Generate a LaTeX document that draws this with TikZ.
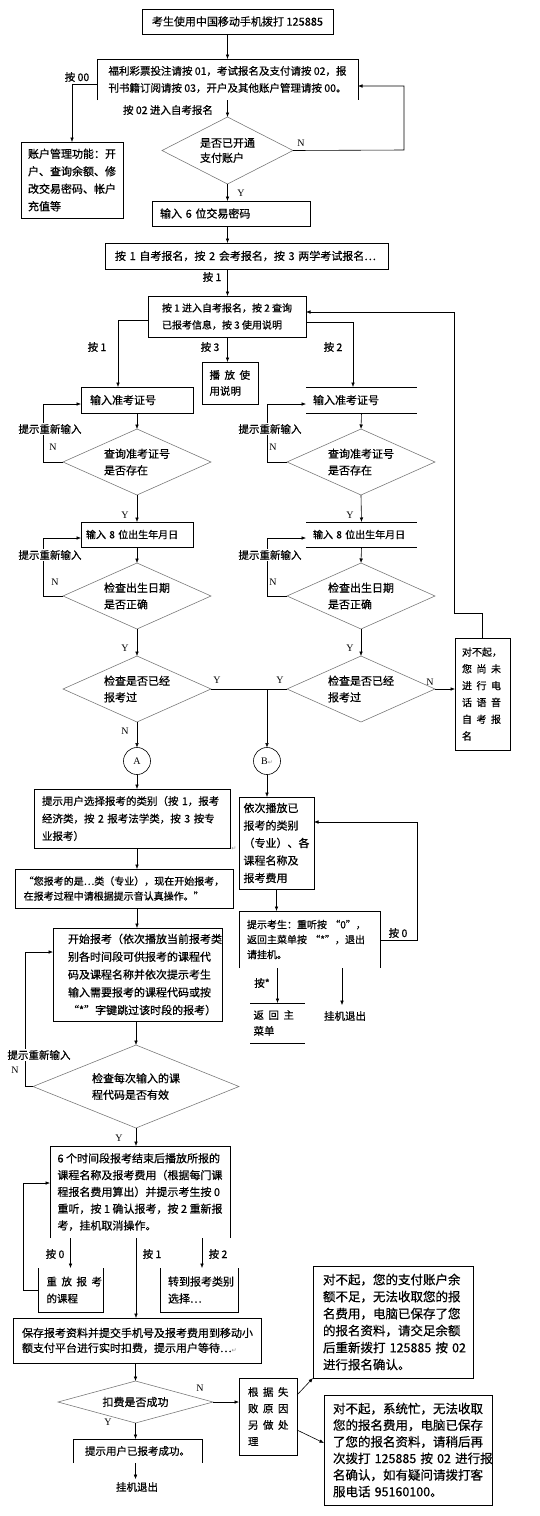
\documentclass[tikz,border=0pt]{standalone}
\usepackage{fontspec}
\setmainfont{Noto Sans CJK SC}[FakeBold=0.6]
\newfontfamily\lat{Liberation Serif}
\newfontfamily\dvs{DejaVu Sans}
\usetikzlibrary{shapes.geometric,arrows.meta}
\newcommand\fsz[2]{\fontsize{#1}{#2}\selectfont}
\newcommand\gp{\kern4.5pt}
\newcommand\rt{{\dvs\fontsize{6}{6}\selectfont\textcolor{black!45}{↵}}}
\newcommand\bxn[6][]{\node[#1,minimum width={(#5-#3)*1pt},minimum height={(#6-#4)*1pt}] (#2) at ({(#3+#5)/2},{(#4+#6)/2})}
\begin{document}
\begin{tikzpicture}[x=1pt,y=-1pt,
  every node/.style={inner sep=1pt,outer sep=0pt},
  bx/.style={draw,line width=0.75pt,align=left,font=\fsz{11}{17.5}},
  nb/.style={align=left,font=\fsz{11}{17.5}},
  tw/.style={text width=#1pt},
  dia/.style={diamond,draw=black!55,line width=0.55pt,shape aspect=2.5,inner sep=0pt,align=left,font=\fsz{11}{16.5}},
  circ/.style={circle,draw,line width=0.6pt,minimum size=27pt,font=\lat\fsz{10}{12}},
  arr/.style={-{Latex[length=4.5pt,width=3.6pt]},line width=0.6pt},
  ln/.style={line width=0.6pt},
  side/.style={line width=0.75pt},
  lab/.style={font=\fsz{10.5}{12}},
  yn/.style={font=\lat\fsz{10}{12}},
]
\fill[white] (0,0) rectangle (540,1516);
\useasboundingbox (0,0) rectangle (540,1516);

% ---------- boxes ----------
\bxn[bx]{start}{142}{9}{333}{34} {考生使用中国移动手机拨打~125885};
\bxn[nb,font=\fsz{10.5}{17}]{box2}{97}{59}{358}{100} {福利彩票投注请按~01，考试报名及支付请按~02，报\\刊书籍订阅请按~03，开户及其他账户管理请按~00。};
\bxn[bx,tw=88]{acct}{21}{142}{123}{218} {账户管理功能：开\\户、查询余额、修\\改交易密码、帐户\\充值等};
\bxn[bx,tw=142]{box3}{152}{201}{310}{226} {输入~6~位交易密码};
\bxn[bx,tw=263]{box4}{105}{243}{388}{269} {按~1~自考报名，按~2~会考报名，按~3~两学考试报名…};
\bxn[bx,font=\fsz{10}{17}]{box5}{148}{296}{306}{337} {按~1~进入自考报名，按~2~查询\\已报考信息，按~3~使用说明};
\bxn[bx,tw=41,font=\fsz{10.5}{16}]{play}{202}{362}{258}{404} {播\gp 放\gp 使\\用说明};
\bxn[bx,tw=94]{box6L}{81}{387}{193}{413} {输入准考证号};
\bxn[nb,tw=97]{box6R}{306}{387}{417}{413} {输入准考证号};
\bxn[bx,tw=102,font=\fsz{10}{17}]{box7L}{81}{522}{193}{547} {输入~8~位出生年月日};
\bxn[nb,tw=97,font=\fsz{10}{17}]{box7R}{306}{522}{417}{547} {输入~8~位出生年月日};
\bxn[bx,tw=41,font=\fsz{10}{16.8}]{sorry}{455}{638}{510}{750} {对不起，\\您\gp 尚\gp 未\\进\gp 行\gp 电\\话\gp 语\gp 音\\自\gp 考\gp 报\\名};
\bxn[bx,tw=180,font=\fsz{10.5}{17.5}]{box8}{34}{789}{230}{848} {提示用户选择报考的类别（按~1，报考\\经济类，按~2~报考法学类，按~3~按专\\业报考）};
\bxn[bx,font=\fsz{11}{17.5}]{box9}{239}{797}{314}{889} {依次播放已\\报考的类别\\（专业）、各\\课程名称及\\报考费用};
\bxn[bx,font=\fsz{10}{15}]{box10}{15}{869}{233}{908} {“您报考的是…类（专业），现在开始报考，\\在报考过程中请根据提示音认真操作。”};
\bxn[nb,tw=125,font=\fsz{10}{15}]{box11}{239}{911}{380}{968} {提示考生：重听按~“0”，\\返回主菜单按~“*”，退出\\请挂机。};
\bxn[nb,tw=48,font=\fsz{10.5}{16}]{box12}{250}{1003}{305}{1043} {返\gp 回\gp 主\\菜单};
\bxn[bx,tw=139,font=\fsz{11}{17.8}]{box13}{53}{928}{222}{1021} {开始报考（依次播放当前报考类\\别各时间段可供报考的课程代\\码及课程名称并依次提示考生\\输入需要报考的课程代码或按\\“*”字键跳过该时段的报考）};
\bxn[nb,font=\fsz{11}{16.8}]{box14}{50}{1146}{230}{1238} {6~个时间段报考结束后播放所报的\\课程名称及报考费用（根据每门课\\程报名费用算出）并提示考生按~0\\重听，按~1~确认报考，按~2~重新报\\考，挂机取消操作。};
\bxn[nb,tw=48,font=\fsz{10.5}{17}]{box15}{38}{1268}{103}{1312} {重\gp 放\gp 报\gp 考\\的课程};
\bxn[bx,tw=230,font=\fsz{11}{15}]{box16}{13}{1318}{261}{1363} {保存报考资料并提交手机号及报考费用到移动小\\额支付平台进行实时扣费，提示用户等待…\rt};
\bxn[nb,tw=62,font=\fsz{11}{17}]{box17}{160}{1268}{238}{1312} {转到报考类别\\选择…};
\bxn[bx,tw=140,font=\fsz{12.5}{17}]{box18}{313}{1266}{473}{1378} {对不起，您的支付账户余\\额不足，无法收取您的报\\名费用，电脑已保存了您\\的报名资料，请交足余额\\后重新拨打~125885~按~02\\进行报名确认。};
\bxn[bx,tw=40,font=\fsz{10.5}{16.5}]{box19}{239}{1378}{297}{1455} {根\gp 据\gp 失\\败\gp 原\gp 因\\另\gp 做\gp 处\\理};
\bxn[bx,tw=150,font=\fsz{12.5}{16.6}]{box20}{324}{1395}{492}{1505} {对不起，系统忙，无法收取\\您的报名费用，电脑已保存\\了您的报名资料，请稍后再\\次拨打~125885~按~02~进行报\\名确认，如有疑问请拨打客\\服电话~95160100。};
\bxn[nb,font=\fsz{10.5}{15}]{box21}{73}{1439}{202}{1463} {提示用户已报考成功。};

% partial box outlines
\draw[side] (box2.south west) -- (box2.north west) -- (box2.north east) -- (box2.south east);
\draw[side] (box6R.north west) -- (box6R.north east) (box6R.south west) -- (box6R.south east);
\draw[side] (box7R.north west) -- (box7R.north east) (box7R.south west) -- (box7R.south east);
\draw[side] (box12.north west) -- (box12.north east) (box12.south west) -- (box12.south east);
\draw[side] (box11.south west) -- (box11.north west) -- (box11.north east) -- (box11.south east);
\draw[side] (box14.south west) -- (box14.north west) -- (box14.north east) -- (box14.south east);
\draw[side] (box15.north west) -- (box15.south west) -- (box15.south east) -- (box15.north east);
\draw[side] (box17.north west) -- (box17.south west) -- (box17.south east) -- (box17.north east);
\draw[side] (box21.south west) -- (box21.north west) -- (box21.north east) -- (box21.south east);

% ---------- diamonds ----------
\bxn[dia,font=\fsz{11}{15}]{d1}{162}{117}{293}{184} {是否已开通\\支付账户};
\bxn[dia]{d2L}{63}{429}{211}{495} {查询准考证号\\是否存在};
\bxn[dia]{d2R}{287}{429}{435}{495} {查询准考证号\\是否存在};
\bxn[dia]{d3L}{63}{563}{211}{629} {检查出生日期\\是否正确};
\bxn[dia]{d3R}{287}{563}{435}{629} {检查出生日期\\是否正确};
\bxn[dia]{d4L}{63}{656}{211}{722} {检查是否已经\\报考过};
\bxn[dia]{d4R}{287}{656}{435}{722} {检查是否已经\\报考过};
\bxn[dia]{d5}{33}{1045}{239}{1128} {检查每次输入的课\\程代码是否有效};
\bxn[dia]{d6}{58}{1381}{213}{1423} {扣费是否成功};

% ---------- circles ----------
\node[circ] (A) at (137,761) {A};
\node[circ] (B) at (267,761) {B\rt};
\node (rtA) at (234,849) {\rt};

% ---------- labels ----------
\node[lab] (l00) at (77,77) {按 00};
\node[lab] (l02) at (168,110) {按 02 进入自考报名};
\node[yn] (yA) at (241,193) {Y};
\node[yn] (nA) at (301,143) {N};
\node[lab] (lb1) at (212,277) {按 1};
\node[lab] (lb1b) at (97,347) {按 1};
\node[lab] (lb3) at (210,347) {按 3};
\node[lab] (lb2) at (333,347) {按 2};
\node[yn] (y1) at (125,515) {Y};
\node[yn] (y2) at (350,515) {Y};
\node[yn] (y3) at (125,648) {Y};
\node[yn] (y4) at (350,648) {Y};
\node[yn] (y5) at (217,680) {Y};
\node[yn] (y6) at (280,680) {Y};
\node[yn] (n5) at (430,682) {N};
\node[yn] (n6) at (125,731) {N};
\node[lab] (lb0) at (398,933) {按 0};
\node[lab] (lbs) at (262,983) {按*};
\node[lab,outer ysep=5pt] (ex1) at (345,1016) {挂机退出};
\node[yn] (n7) at (15,1070) {N};
\node[yn] (y7) at (119,1138) {Y};
\node[lab] (lc0) at (55,1254) {按 0};
\node[lab] (lc1) at (152,1254) {按 1};
\node[lab] (lc2) at (218,1254) {按 2};
\node[yn] (n8) at (200,1388) {N};
\node[yn] (y8) at (108,1422) {Y};
\node[lab,outer ysep=2pt] (ex2) at (137,1487) {挂机退出};

% ---------- connectors ----------
\draw[arr] (start.south -| d1.north) -- (box2.north -| d1.north);
\draw[arr] (box2.south -| d1.north) -- (d1.north);
\draw[arr] ([yshift=-4.5pt]box2.west) -| (acct.north);
\coordinate (k1) at (404,150); \coordinate (k2) at (404,86);
\draw[arr] (d1.east) -- (k1) -- (k2) -- (k2 -| box2.east);
\draw[arr] (d1.south) -- (d1.south |- box3.north);
\draw[arr] (box3.south -| d1.south) -- (box4.north -| d1.south);
\draw[arr] (box4.south -| d1.south) -- (box5.north -| d1.south);
\draw[arr] (box5.south -| d1.south) -- (play.north -| d1.south);
\coordinate (k3) at (118,320);
\draw[arr] (k3 -| box5.west) -- (k3) -- (k3 |- box6L.north);
\coordinate (k4) at (353,322);
\draw[arr] (k4 -| box5.east) -- (k4) -- (k4 |- box6R.north);
\coordinate (k5) at (482.5,613); \coordinate (k6) at (454,613); \coordinate (k7) at (454,312);
\draw[arr] (sorry.north) -- (k5) -- (k6) -- (k7) -- (k7 -| box5.east);

% left column
\draw[arr] (box6L.south) -- (d2L.north);
\draw[arr] (d2L.south) -- (box7L.north);
\draw[arr] (box7L.south) -- (d3L.north);
\draw[arr] (d3L.south) -- (d4L.north);
\draw[arr] (d4L.south) -- (A.north);
\coordinate (k8) at (43,404);
\draw[arr] (d2L.west) -| (k8) -- (k8 -| box6L.west);
\coordinate (k9) at (43,538);
\draw[arr] (d3L.west) -| (k9) -- (k9 -| box7L.west);
\node[lab,fill=white] (r1) at (50,429) {提示重新输入};
\node[yn] (n1) at (53,447) {N};
\node[lab,fill=white] (r3) at (50,555) {提示重新输入};
\node[yn] (n3) at (55,582) {N};

% right column
\draw[arr] (box6R.south) -- (d2R.north);
\draw[arr] (d2R.south) -- (box7R.north);
\draw[arr] (box7R.south) -- (d3R.north);
\draw[arr] (d3R.south) -- (d4R.north);
\coordinate (k10) at (267,404);
\draw[arr] (d2R.west) -| (k10) -- (k10 -| box6R.west);
\coordinate (k11) at (267,538);
\draw[arr] (d3R.west) -| (k11) -- (k11 -| box7R.west);
\node[lab,fill=white] (r2) at (270,429) {提示重新输入};
\node[yn] (n2) at (273,447) {N};
\node[lab,fill=white] (r4) at (270,555) {提示重新输入};
\node[yn] (n4) at (273,582) {N};
\draw[arr] (d4R.east) -- (d4R.east -| sorry.west);
\draw[ln] (d4L.east) -- (d4R.west);
\coordinate (k12) at (267,689);
\draw[arr] (k12) -- (B.north);

% middle part
\draw[arr] (A.south) -- (A.south |- box8.north);
\draw[arr] (B.south) -- (B.south |- box9.north);
\coordinate (k13) at (417,822); \coordinate (k14) at (417,940);
\draw[arr] (k14 -| box11.east) -- (k14) -- (k13) -- (k13 -| box9.east);
\draw[arr] (box8.south -| A.south) -- (box10.north -| A.south);
\draw[arr] (box10.south -| A.south) -- (box13.north -| A.south);
\draw[arr] (box9.south) -- (box9.south |- box11.north);
\draw[arr] (box11.south -| box12.north) -- (box12.north);
\coordinate (k16) at (342,968);
\draw[arr] (k16) -- (k16 |- ex1.north);

\draw[arr] (box13.south -| d5.north) -- (d5.north);
\draw[arr] (d5.south) -- (d5.south |- box14.north);
\coordinate (k17) at (25,952);
\draw[arr] (d5.west) -| (k17) -- (k17 -| box13.west);
\node[lab,fill=white] (r5) at (39,1055) {提示重新输入};

% lower part
\draw[arr] (box14.south -| box15.north) -- (box15.north);
\draw[arr] (box14.south -| d5.south) -- (box16.north -| d5.south);
\coordinate (k19) at (202,1238);
\draw[arr] (k19) -- (k19 |- box17.north);
\coordinate (k20) at (23,1183);
\draw[arr] (box15.west) -| (k20) -- (k20 -| box14.west);
\draw[arr] (box16.south -| d6.north) -- (d6.north);
\draw[arr] (d6.east) -- (d6.east -| box19.west);
\draw[arr] (d6.south) -- (d6.south |- box21.north);
\draw[arr] (box21.south -| d6.south) -- (d6.south |- ex2.north);
\draw[arr] ([yshift=-17pt]box19.north east) -- (box18.south west);
\draw[arr] ([yshift=-52pt]box19.north east) -- ([yshift=-48pt]box20.north west);
\end{tikzpicture}
\end{document}
